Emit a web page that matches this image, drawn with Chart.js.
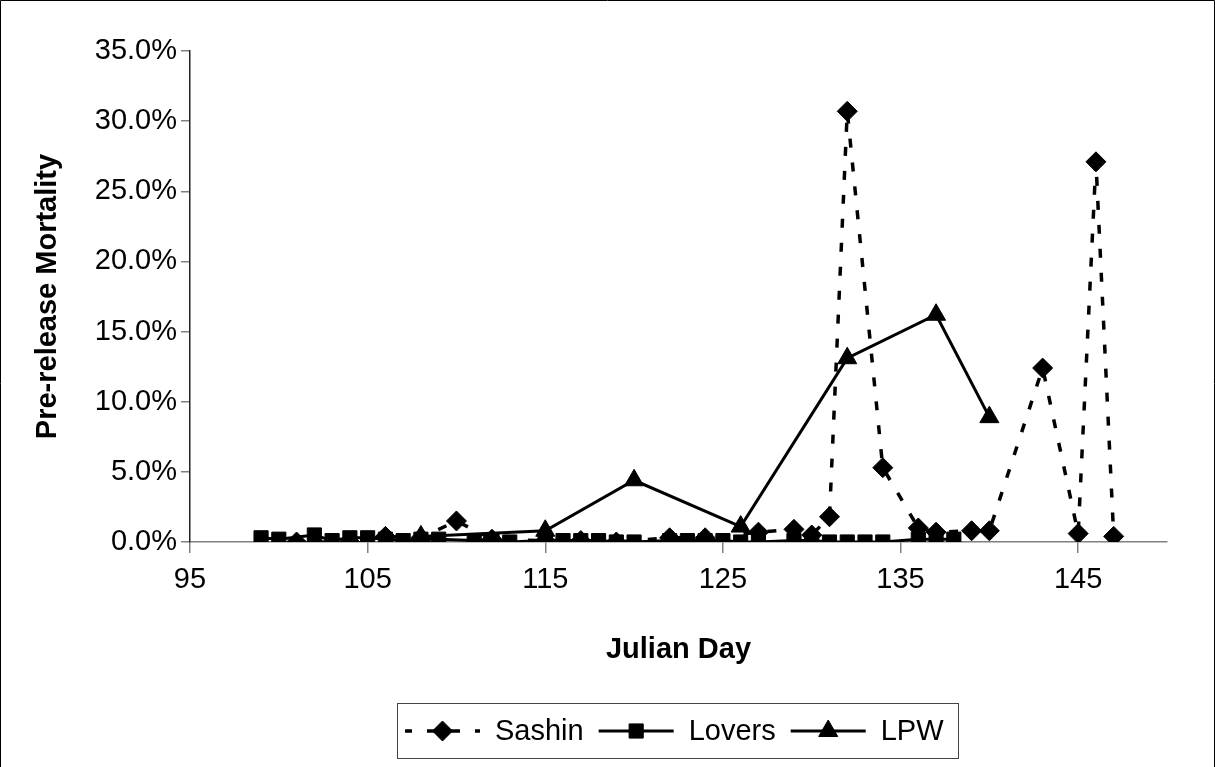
<!DOCTYPE html>
<html>
<head>
<meta charset="utf-8">
<script src="https://cdn.jsdelivr.net/npm/chart.js@4.4.0/dist/chart.umd.min.js"></script>
<style>
  html, body { margin: 0; padding: 0; background: #fff; }
</style>
</head>
<body>
<canvas id="mortChart" width="1215" height="767"></canvas>
<script>
// values (percent)
var sashinDays = [101, 104, 106, 108, 110, 112, 115, 117, 119, 122, 124, 127, 129, 130, 131, 132, 134, 136, 137, 139, 140, 143, 145, 146, 147];
var sashinVals = [0.0, 0.0, 0.4, 0.3, 1.5, 0.2, 0.1, 0.1, 0.0, 0.3, 0.3, 0.7, 0.9, 0.5, 1.8, 30.7, 5.3, 1.0, 0.7, 0.8, 0.8, 12.4, 0.6, 27.1, 0.4];

var loversDays = [99, 100, 102, 103, 104, 105, 106, 107, 108, 109, 111, 112, 113, 115, 116, 117, 118, 119, 120, 122, 123, 124, 125, 126, 127, 129, 130, 131, 132, 133, 134, 136, 137, 138];
var loversVals = [0.3, 0.2, 0.5, 0.1, 0.3, 0.3, 0.2, 0.1, 0.2, 0.2, 0.1, 0.1, 0.0, 0.1, 0.1, 0.1, 0.1, 0.0, 0.0, 0.1, 0.1, 0.1, 0.1, 0.0, 0.0, 0.1, 0.1, 0.0, 0.0, 0.0, 0.0, 0.2, 0.2, 0.2];

var lpwDays = [108, 115, 120, 126, 132, 137, 140];
var lpwVals = [0.4, 0.8, 4.4, 1.1, 13.1, 16.2, 8.9];

var xTicks = [95, 105, 115, 125, 135, 145];
var seriesNames = ["Sashin", "Lovers", "LPW"];

var FONT = '"Liberation Sans", Arial, sans-serif';
Chart.defaults.font.family = FONT;
Chart.defaults.color = "#000";

function toPoints(days, vals) {
  return days.map(function (d, i) {
    return { x: d, y: vals[i] };
  });
}

// legend box at the bottom, plus the outer frame
var boxLegend = {
  id: "boxLegend",
  afterDraw: function (chart) {
    var c = chart.ctx;
    c.save();
    c.strokeStyle = "#000";
    c.lineWidth = 1;
    c.beginPath();
    c.moveTo(0.5, 767);
    c.lineTo(0.5, 0.5);
    c.lineTo(1214.5, 0.5);
    c.lineTo(1214.5, 767);
    c.stroke();

    c.strokeStyle = "#444";
    c.strokeRect(397.5, 703.5, 561, 55);

    var x = 405;
    var y = 731;
    c.font = "29px " + FONT;
    c.textBaseline = "middle";
    c.textAlign = "left";
    chart.data.datasets.forEach(function (ds) {
      c.strokeStyle = "#000";
      c.fillStyle = "#000";
      c.lineWidth = ds.borderWidth;
      c.setLineDash(ds.borderDash || []);
      c.lineDashOffset = ds.borderDash ? 2 : 0;
      c.beginPath();
      c.moveTo(x, y);
      c.lineTo(x + 75, y);
      c.stroke();
      c.setLineDash([]);
      c.lineWidth = 1;
      Chart.helpers.drawPoint(c, { pointStyle: ds.pointStyle, radius: ds.pointRadius, borderWidth: 1, rotation: 0 }, x + 37.5, y);
      c.fillStyle = "#000";
      c.fillText(ds.label, x + 90, y + 1);
      x += 90 + c.measureText(ds.label).width + 15;
    });
    c.restore();
  },
};

var ctx = document.getElementById("mortChart").getContext("2d");
var mortChart = new Chart(ctx, {
  type: "scatter",
  data: {
    datasets: [
      {
        label: seriesNames[0],
        data: toPoints(sashinDays, sashinVals),
        showLine: true,
        borderColor: "#000",
        backgroundColor: "#000",
        borderWidth: 3.5,
        borderDash: [9, 15],
        pointStyle: "rectRot",
        pointRadius: 10,
        pointBorderWidth: 1,
      },
      {
        label: seriesNames[1],
        data: toPoints(loversDays, loversVals),
        showLine: true,
        borderColor: "#000",
        backgroundColor: "#000",
        borderWidth: 3,
        pointStyle: "rect",
        pointRadius: 10,
        pointBorderWidth: 1,
      },
      {
        label: seriesNames[2],
        data: toPoints(lpwDays, lpwVals),
        showLine: true,
        borderColor: "#000",
        backgroundColor: "#000",
        borderWidth: 3,
        pointStyle: "triangle",
        pointRadius: 11,
        pointBorderWidth: 1,
      },
    ],
  },
  options: {
    responsive: false,
    animation: false,
    layout: { padding: { left: 0, right: 48, top: 51, bottom: 0 } },
    plugins: {
      legend: { display: false },
      tooltip: { enabled: false },
    },
    scales: {
      x: {
        type: "linear",
        min: 95,
        max: 150,
        afterBuildTicks: function (s) {
          s.ticks = xTicks.map(function (v) {
            return { value: v };
          });
        },
        afterFit: function (s) {
          s.height = 225;
        },
        border: { color: "#808080", width: 1.5 },
        grid: { drawOnChartArea: false, tickLength: 11, color: "#808080", lineWidth: 1.5 },
        ticks: { color: "#000", font: { size: 29 }, padding: 10, maxRotation: 0, autoSkip: false },
        title: {
          display: true,
          text: "Julian Day",
          color: "#000",
          font: { size: 29, weight: "bold" },
          padding: { top: 0, bottom: 100 },
        },
      },
      y: {
        min: 0,
        max: 35,
        afterFit: function (s) {
          s.width = 190;
        },
        border: { color: "#222", width: 1.5 },
        grid: { drawOnChartArea: false, tickLength: 9, color: "#808080", lineWidth: 1.5 },
        ticks: {
          stepSize: 5,
          color: "#000",
          font: { size: 29 },
          padding: 4,
          callback: function (v) {
            return v.toFixed(1) + "%";
          },
        },
        title: {
          display: true,
          text: "Pre-release Mortality",
          color: "#000",
          font: { size: 29, weight: "bold" },
          padding: { top: 31, bottom: 0 },
        },
      },
    },
  },
  plugins: [boxLegend],
});
</script>
</body>
</html>
